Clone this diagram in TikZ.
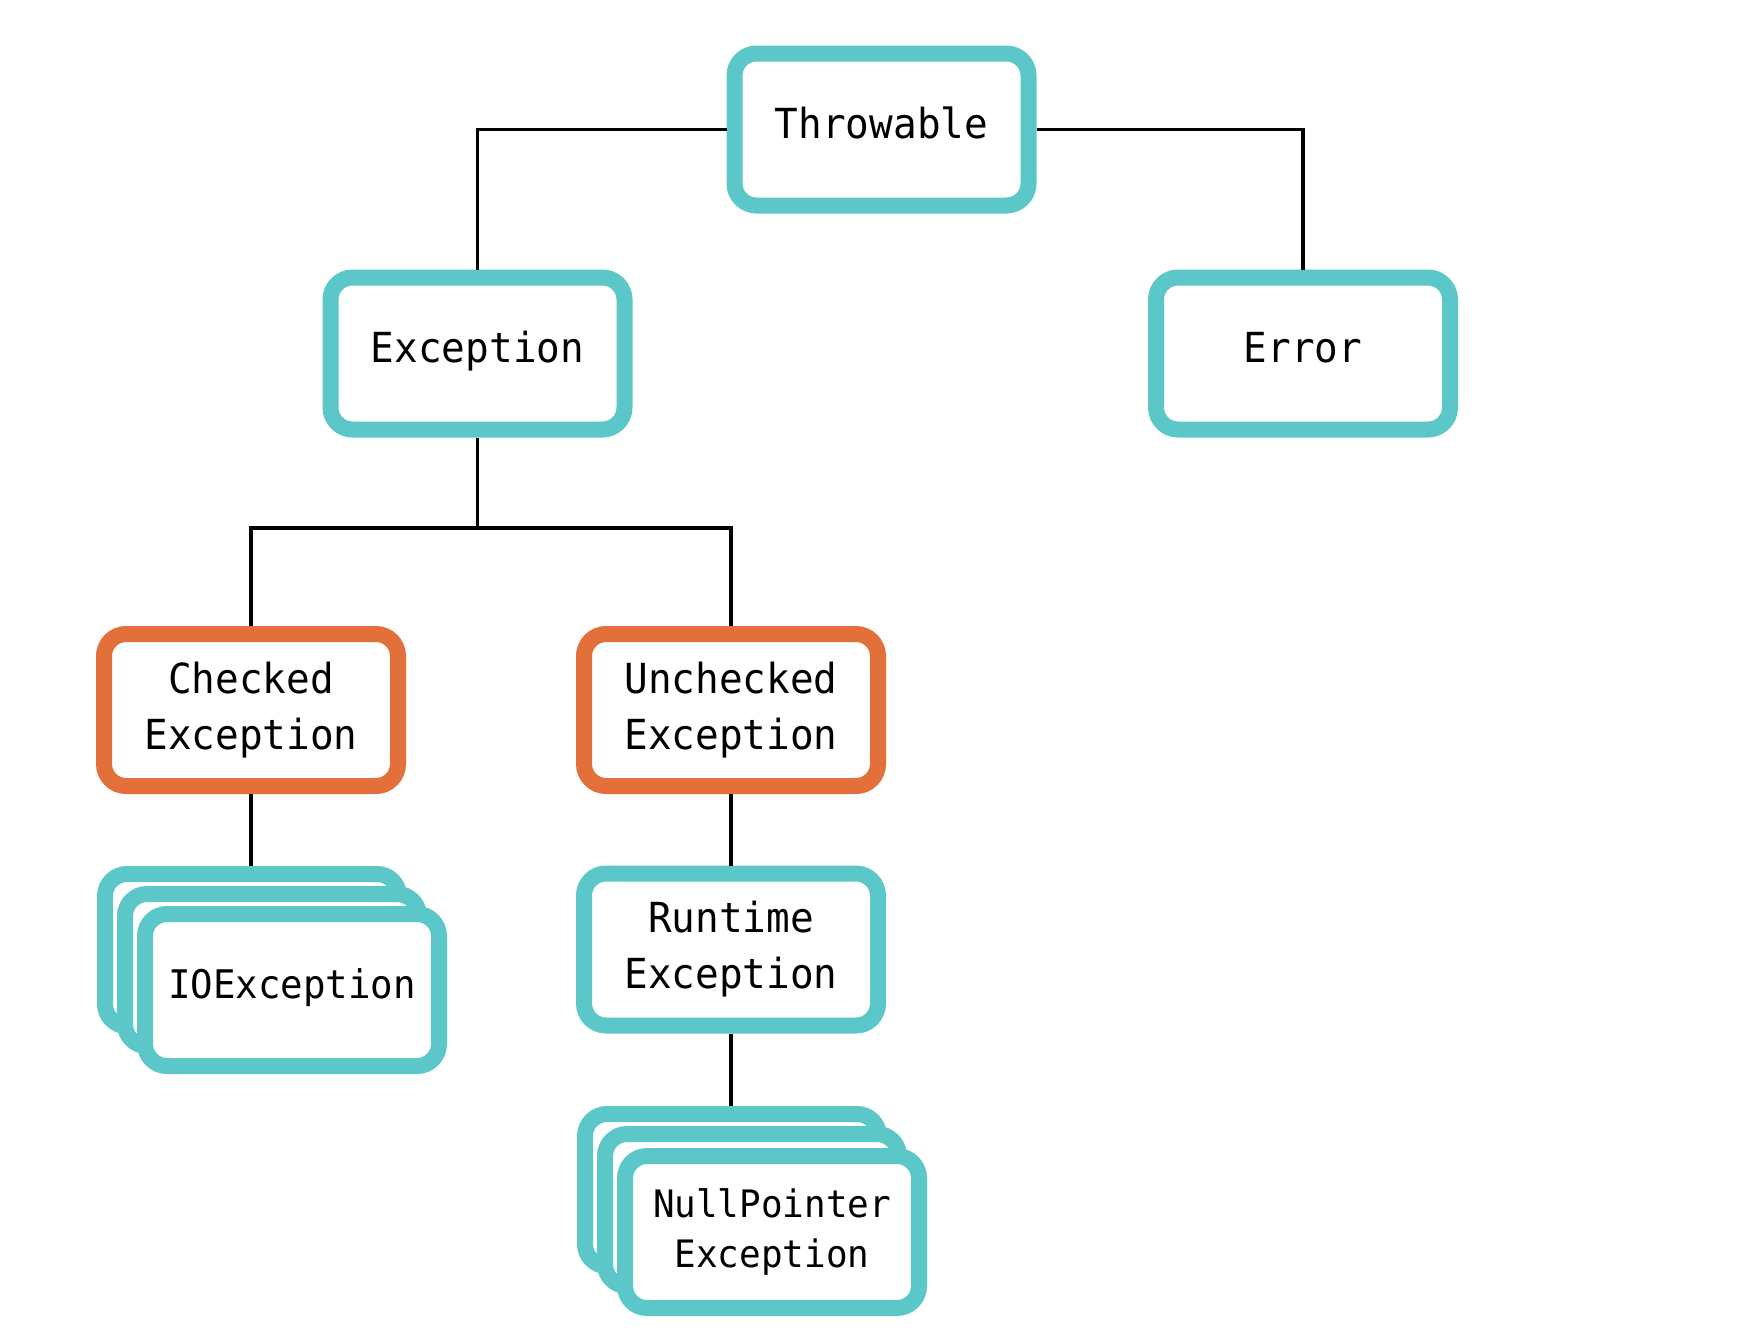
\documentclass[tikz,border=0pt]{standalone}
\usepackage{fontspec}
\setmonofont[FakeStretch=0.95]{DejaVu Sans Mono}
\definecolor{tealc}{HTML}{5CC7C9}
\definecolor{orangec}{HTML}{E3703A}
\begin{document}
\begin{tikzpicture}[x=0.5pt,y=-0.5pt,
  box/.style={draw=tealc, line width=8pt, rounded corners=11pt, fill=white,
    minimum width=147pt, minimum height=76pt, inner sep=0pt, align=center,
    font=\ttfamily\fontsize{20.7}{28}\selectfont},
  obox/.style={box, draw=orangec},
  one/.style={text height=0.85em, text depth=0pt},
  conn/.style={draw=black, line width=1.6pt}]
\useasboundingbox (0,0) rectangle (1760,1330);
\node[box,one] (throw) at (881.5,129.5) {Throwable};
\node[box,one] (exc) at (477.5,353.5) {Exception};
\node[box,one] (err) at (1303,353.5) {Error};
\node[obox] (check) at (251,710) {Checked\\Exception};
\node[obox] (uncheck) at (731,710) {Unchecked\\Exception};
\node[box] (runtime) at (731,949.5) {Runtime\\Exception};
% IOException stack
\node[box] (ioback) at (252,950) {};
\node[box] (iomid) at (272,970) {};
\node[box,one,font=\ttfamily\fontsize{19.7}{26}\selectfont] (io) at (292,990) {IOException};
% NullPointer stack
\node[box] (npback) at (732,1190) {};
\node[box] (npmid) at (752,1210) {};
\node[box,font=\ttfamily\fontsize{18.9}{25}\selectfont] (np) at (772,1232) {NullPointer\\Exception};
% connectors
\draw[conn] (throw.west) -| (exc.north);
\draw[conn] (throw.east) -| (err.north);
\coordinate (split) at (477.5,528);
\draw[conn] (exc.south) -- (split);
\draw[conn] (check.north) |- (split) -| (uncheck.north);
\draw[conn] (check.south) -- (check.south |- ioback.north);
\draw[conn] (uncheck.south) -- (runtime.north);
\draw[conn] (runtime.south) -- (runtime.south |- npback.north);
\end{tikzpicture}
\end{document}
